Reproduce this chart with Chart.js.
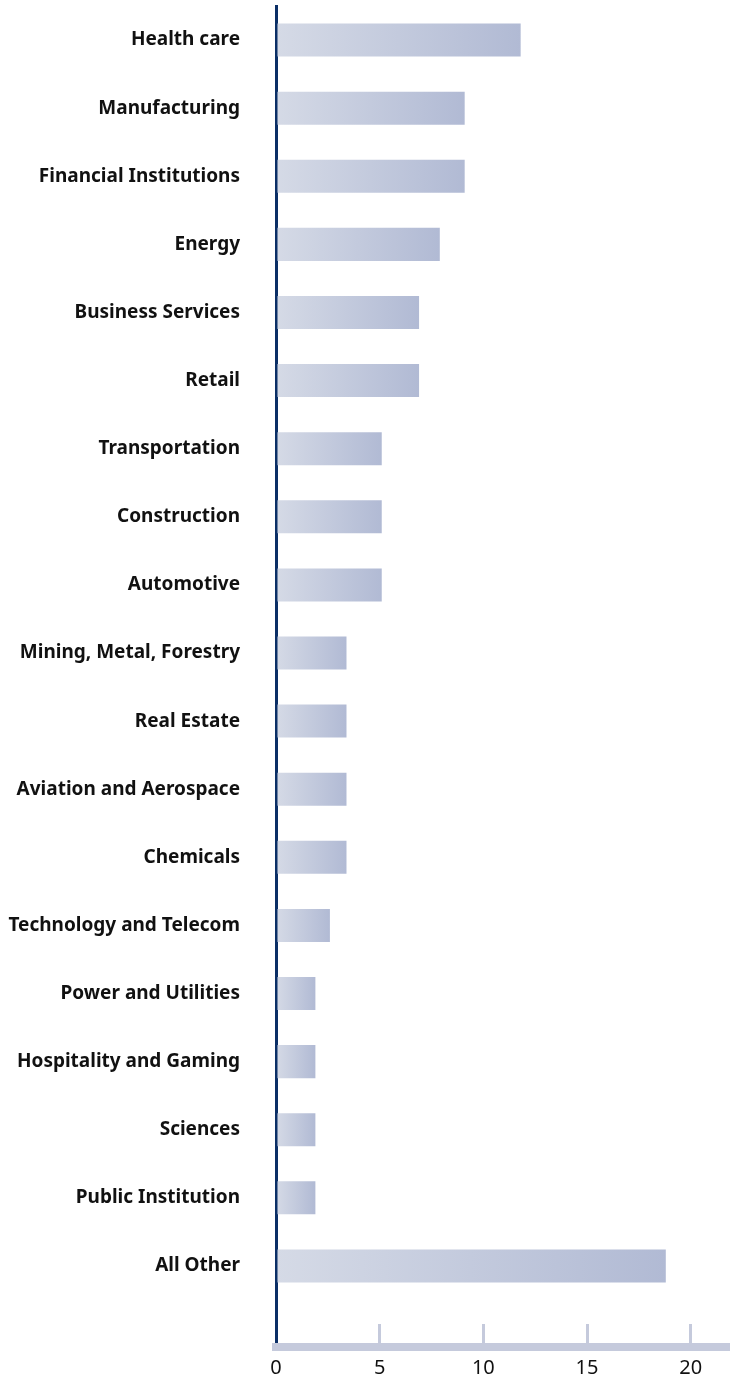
<!DOCTYPE html>
<html>
<head>
<meta charset="utf-8">
<script src="https://cdn.jsdelivr.net/npm/chart.js@4/dist/chart.umd.min.js"></script>
<style>
  html, body { margin: 0; padding: 0; background: #fff; }
</style>
</head>
<body>
<canvas id="mainGraph" width="736" height="1376"></canvas>
<script>
var sectors = ['Health care', 'Manufacturing', 'Financial Institutions', 'Energy',
    'Business Services', 'Retail', 'Transportation', 'Construction', 'Automotive',
    'Mining, Metal, Forestry', 'Real Estate', 'Aviation and Aerospace', 'Chemicals',
    'Technology and Telecom', 'Power and Utilities', 'Hospitality and Gaming',
    'Sciences', 'Public Institution', 'All Other'];
var shares = [11.8, 9.1, 9.1, 7.9, 6.9, 6.9, 5.1, 5.1, 5.1, 3.4, 3.4, 3.4, 3.4,
    2.6, 1.9, 1.9, 1.9, 1.9, 18.8];
var xTicks = [0, 5, 10, 15, 20];

var points = shares.map(function(v, i) { return {x: v, y: i}; });

function barGradient(context) {
    var chart = context.chart;
    var xs = chart.scales.x;
    if (!xs || context.raw === undefined) return '#c3c9dc';
    var x0 = xs.getPixelForValue(0);
    var x1 = xs.getPixelForValue(context.raw.x);
    if (!isFinite(x0) || !isFinite(x1) || x1 <= x0) return '#c3c9dc';
    var g = chart.ctx.createLinearGradient(x0, 0, x1, 0);
    g.addColorStop(0, '#d5dae6');
    g.addColorStop(1, '#b1bad4');
    return g;
}

var ctx = document.getElementById('mainGraph').getContext('2d');

var chart = new Chart(ctx, {
    type: 'bar',
    data: {
        datasets: [{
            data: points,
            backgroundColor: barGradient,
            borderWidth: 0,
            barPercentage: 0.485,
            categoryPercentage: 1
        }]
    },
    options: {
        responsive: false,
        animation: false,
        indexAxis: 'y',
        layout: { padding: { top: 6, right: 8, bottom: 0, left: 0 } },
        plugins: {
            legend: { display: false },
            tooltip: { enabled: false }
        },
        scales: {
            y: {
                type: 'linear',
                reverse: true,
                offset: false,
                min: -0.5,
                max: 19.19,
                afterBuildTicks: function(scale) {
                    scale.ticks = sectors.map(function(s, i) { return {value: i}; });
                },
                afterFit: function(scale) { scale.width = 276; },
                grid: {
                    offset: false,
                    drawOnChartArea: false,
                    drawTicks: true,
                    tickLength: 36,
                    color: 'rgba(0,0,0,0)'
                },
                border: { display: true, color: '#0b2f66', width: 3 },
                ticks: {
                    autoSkip: false,
                    padding: 0,
                    color: '#111',
                    font: { family: 'Noto Sans', weight: 'bold', size: 19, lineHeight: 0.6 },
                    callback: function(v) { return sectors[v]; }
                }
            },
            x: {
                type: 'linear',
                min: 0,
                max: 21.8,
                afterBuildTicks: function(scale) {
                    scale.ticks = xTicks.map(function(v) { return {value: v}; });
                },
                afterFit: function(scale) { scale.height = 29; },
                grid: {
                    drawOnChartArea: false,
                    drawTicks: true,
                    tickLength: -23,
                    color: '#c5cadc',
                    lineWidth: 3
                },
                border: { display: true, color: '#c5cadc', width: 8 },
                ticks: {
                    padding: 33,
                    color: '#111',
                    font: { family: 'Noto Sans', size: 20, lineHeight: 1.1 },
                    maxRotation: 0
                }
            }
        }
    }
});
</script>
</body>
</html>
